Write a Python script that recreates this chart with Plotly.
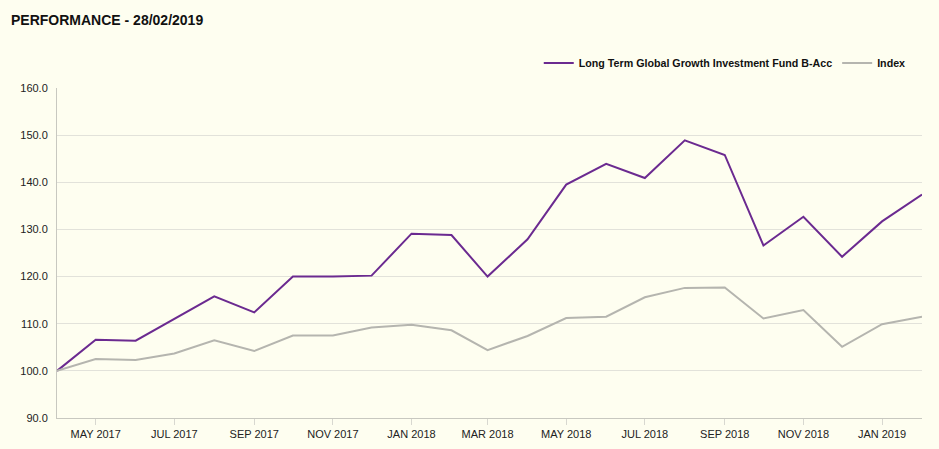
import plotly.graph_objects as go

dates = ["2017-04-01", "2017-05-01", "2017-06-01", "2017-07-01", "2017-08-01", "2017-09-01",
         "2017-10-01", "2017-11-01", "2017-12-01", "2018-01-01", "2018-02-01", "2018-03-01",
         "2018-04-01", "2018-05-01", "2018-06-01", "2018-07-01", "2018-08-01", "2018-09-01",
         "2018-10-01", "2018-11-01", "2018-12-01", "2019-01-01", "2019-02-01"]
fund = [100.0, 106.6, 106.4, 111.1, 115.8, 112.4, 120.0, 120.0, 120.2, 129.1, 128.8, 120.0,
        127.9, 139.5, 143.9, 140.9, 148.9, 145.8, 126.6, 132.7, 124.2, 131.7, 137.4]
index = [100.0, 102.5, 102.3, 103.7, 106.5, 104.2, 107.5, 107.5, 109.2, 109.8, 108.6, 104.4,
         107.4, 111.2, 111.5, 115.6, 117.6, 117.7, 111.1, 112.9, 105.1, 109.9, 111.5]
tick_dates = ["2017-05-01", "2017-07-01", "2017-09-01", "2017-11-01", "2018-01-01", "2018-03-01",
              "2018-05-01", "2018-07-01", "2018-09-01", "2018-11-01", "2019-01-01"]
tick_labels = ["MAY 2017", "JUL 2017", "SEP 2017", "NOV 2017", "JAN 2018", "MAR 2018",
               "MAY 2018", "JUL 2018", "SEP 2018", "NOV 2018", "JAN 2019"]
y_ticks = [90, 100, 110, 120, 130, 140, 150, 160]

BG = "#FEFEF0"
FONT = "Liberation Sans"

fig = go.Figure()
fig.add_trace(go.Scatter(x=dates, y=fund, mode="lines",
                         name="Long Term Global Growth Investment Fund B-Acc",
                         line=dict(color="#6B2A90", width=2)))
fig.add_trace(go.Scatter(x=dates, y=index, mode="lines", name="Index",
                         line=dict(color="#B5B5AF", width=2)))

fig.update_layout(
    width=939, height=449,
    paper_bgcolor=BG, plot_bgcolor=BG,
    margin=dict(l=57, r=17, t=88, b=31),
    font=dict(family=FONT, size=11, color="#222222"),
    title=dict(text="<b>PERFORMANCE - 28/02/2019</b>", x=11/939, xref="container", xanchor="left",
               y=1 - 20/449, yref="container", yanchor="middle",
               font=dict(family=FONT, size=14, color="#111111")),
    legend=dict(orientation="h", x=0.987, xanchor="right", y=1 + 25/330, yanchor="middle",
                bgcolor="rgba(0,0,0,0)",
                font=dict(family=FONT, size=10.7, color="#111111", weight="bold"),
                itemwidth=30),
    showlegend=True,
)
fig.update_xaxes(range=["2017-04-01", "2019-02-01"], tickvals=tick_dates, ticktext=tick_labels,
                 showgrid=False, showline=True, linecolor="#C8C8C0", linewidth=1,
                 ticks="outside", ticklen=6, tickcolor="#D8D8D0", zeroline=False,
                 automargin=False, tickfont=dict(size=11, color="#222222"))
fig.update_yaxes(range=[90, 160], tickvals=y_ticks, tickformat=".1f",
                 showgrid=True, gridcolor="#E2E2DA", gridwidth=1,
                 showline=True, linecolor="#C8C8C0", linewidth=1, zeroline=False,
                 automargin=False, ticks="", ticklabelstandoff=6,
                 tickfont=dict(size=11, color="#222222"))

fig.write_html("out.html", config={"displayModeBar": False},
               post_script="document.body.style.margin='0px';document.body.style.background='#FEFEF0';")
